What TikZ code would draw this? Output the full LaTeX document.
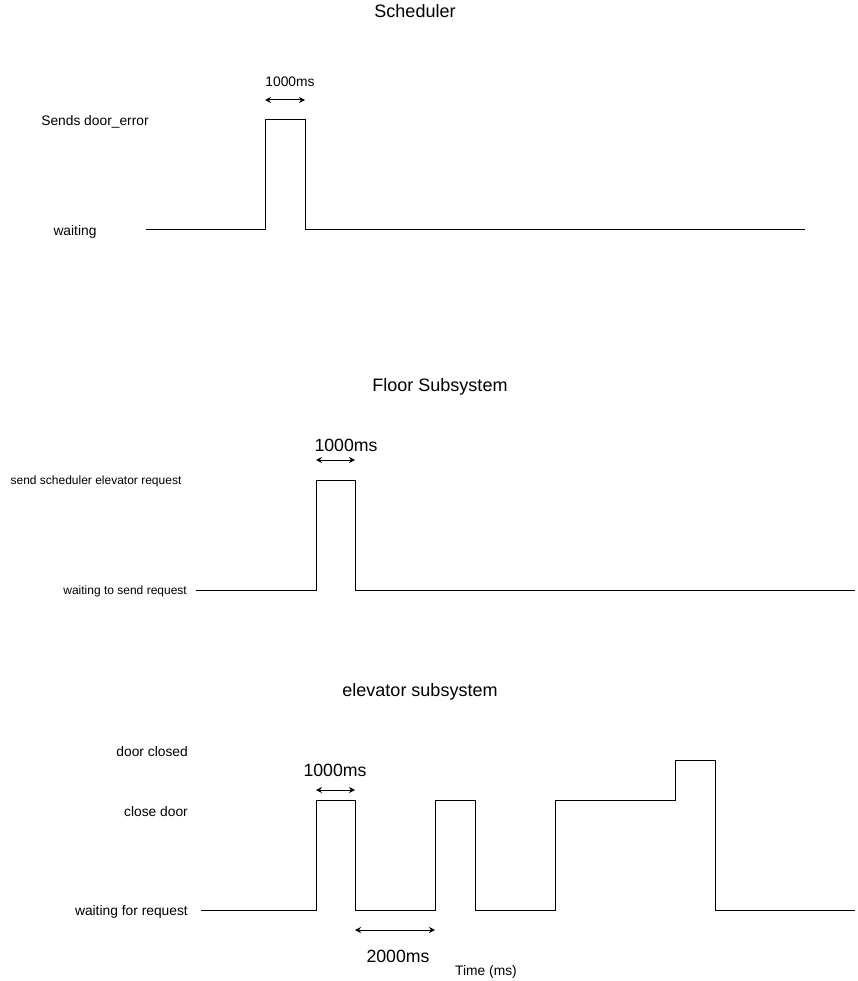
\documentclass[tikz,border=0pt]{standalone}
\usepackage{fontspec}
\setmainfont{Liberation Sans}
\usetikzlibrary{arrows.meta}
\begin{document}
\begin{tikzpicture}[x=1pt,y=-1pt,
  wave/.style={line width=1pt,line join=miter},
  dim/.style={line width=1pt,{Stealth[length=6pt,width=6pt]}-{Stealth[length=6pt,width=6pt]}},
  title/.style={font=\fontsize{18}{20}\selectfont,inner sep=0pt,yshift=-1.5pt},
  lab/.style={font=\fontsize{13.8}{15}\selectfont,inner sep=0pt,yshift=-1.5pt},
  slab/.style={font=\fontsize{12}{14}\selectfont,inner sep=0pt,yshift=-1.5pt},
  big/.style={font=\fontsize{17.7}{20}\selectfont,inner sep=0pt,yshift=-1.5pt}]
\useasboundingbox[fill=white] (0,0) rectangle (858,981);

% Scheduler
\node[title] (t1) at (415,10) {Scheduler};
\node[lab] (s1) at (95,120) {Sends door\_error};
\node[lab] (s2) at (75,230) {waiting};
\coordinate (a0) at (146,230);
\coordinate (a1) at (265,230);
\coordinate (a2) at (265,120);
\coordinate (a3) at (305,120);
\coordinate (a4) at (305,230);
\coordinate (a5) at (805,230);
\draw[wave] (a0) -- (a1) -- (a2) -- (a3) -- (a4) -- (a5);
\coordinate (d1l) at (265,100);
\coordinate (d1r) at (305,100);
\draw[dim] (d1l) -- (d1r);
\node[lab] (m1) at (290,80) {1000ms};

% Floor subsystem
\node[title] (t2) at (440,385) {Floor Subsystem};
\node[slab] (f1) at (96,480) {send scheduler elevator request};
\node[slab,anchor=east] (f2) at (187,590) {waiting to send request};
\coordinate (b0) at (196,590);
\coordinate (b1) at (316,590);
\coordinate (b2) at (316,480);
\coordinate (b3) at (355,480);
\coordinate (b4) at (355,590);
\coordinate (b5) at (855,590);
\draw[wave] (b0) -- (b1) -- (b2) -- (b3) -- (b4) -- (b5);
\coordinate (d2l) at (316,460);
\coordinate (d2r) at (355,460);
\draw[dim] (d2l) -- (d2r);
\node[big] (m2) at (346,444) {1000ms};

% Elevator subsystem
\node[title] (t3) at (420,690) {elevator subsystem};
\node[lab,anchor=east] (e1) at (188,750) {door closed};
\node[lab,anchor=east] (e2) at (188,810) {close door};
\node[lab,anchor=east] (e3) at (188,910) {waiting for request};
\coordinate (c0) at (201,910);
\coordinate (c1) at (316,910);
\coordinate (c2) at (316,800);
\coordinate (c3) at (355,800);
\coordinate (c4) at (355,910);
\coordinate (c5) at (435,910);
\coordinate (c6) at (435,800);
\coordinate (c7) at (475,800);
\coordinate (c8) at (475,910);
\coordinate (c9) at (555,910);
\coordinate (c10) at (555,800);
\coordinate (c11) at (675,800);
\coordinate (c12) at (675,760);
\coordinate (c13) at (715,760);
\coordinate (c14) at (715,910);
\coordinate (c15) at (855,910);
\draw[wave] (c0) -- (c1) -- (c2) -- (c3) -- (c4) -- (c5) -- (c6) -- (c7) -- (c8) -- (c9) -- (c10) -- (c11) -- (c12) -- (c13) -- (c14) -- (c15);
\coordinate (d3l) at (316,790);
\coordinate (d3r) at (355,790);
\draw[dim] (d3l) -- (d3r);
\node[big] (m3) at (335,769) {1000ms};
\coordinate (d4l) at (355,930);
\coordinate (d4r) at (435,930);
\draw[dim] (d4l) -- (d4r);
\node[big] (m4) at (398,955) {2000ms};
\node[lab] (tm) at (486,970) {Time (ms)};
\end{tikzpicture}
\end{document}
